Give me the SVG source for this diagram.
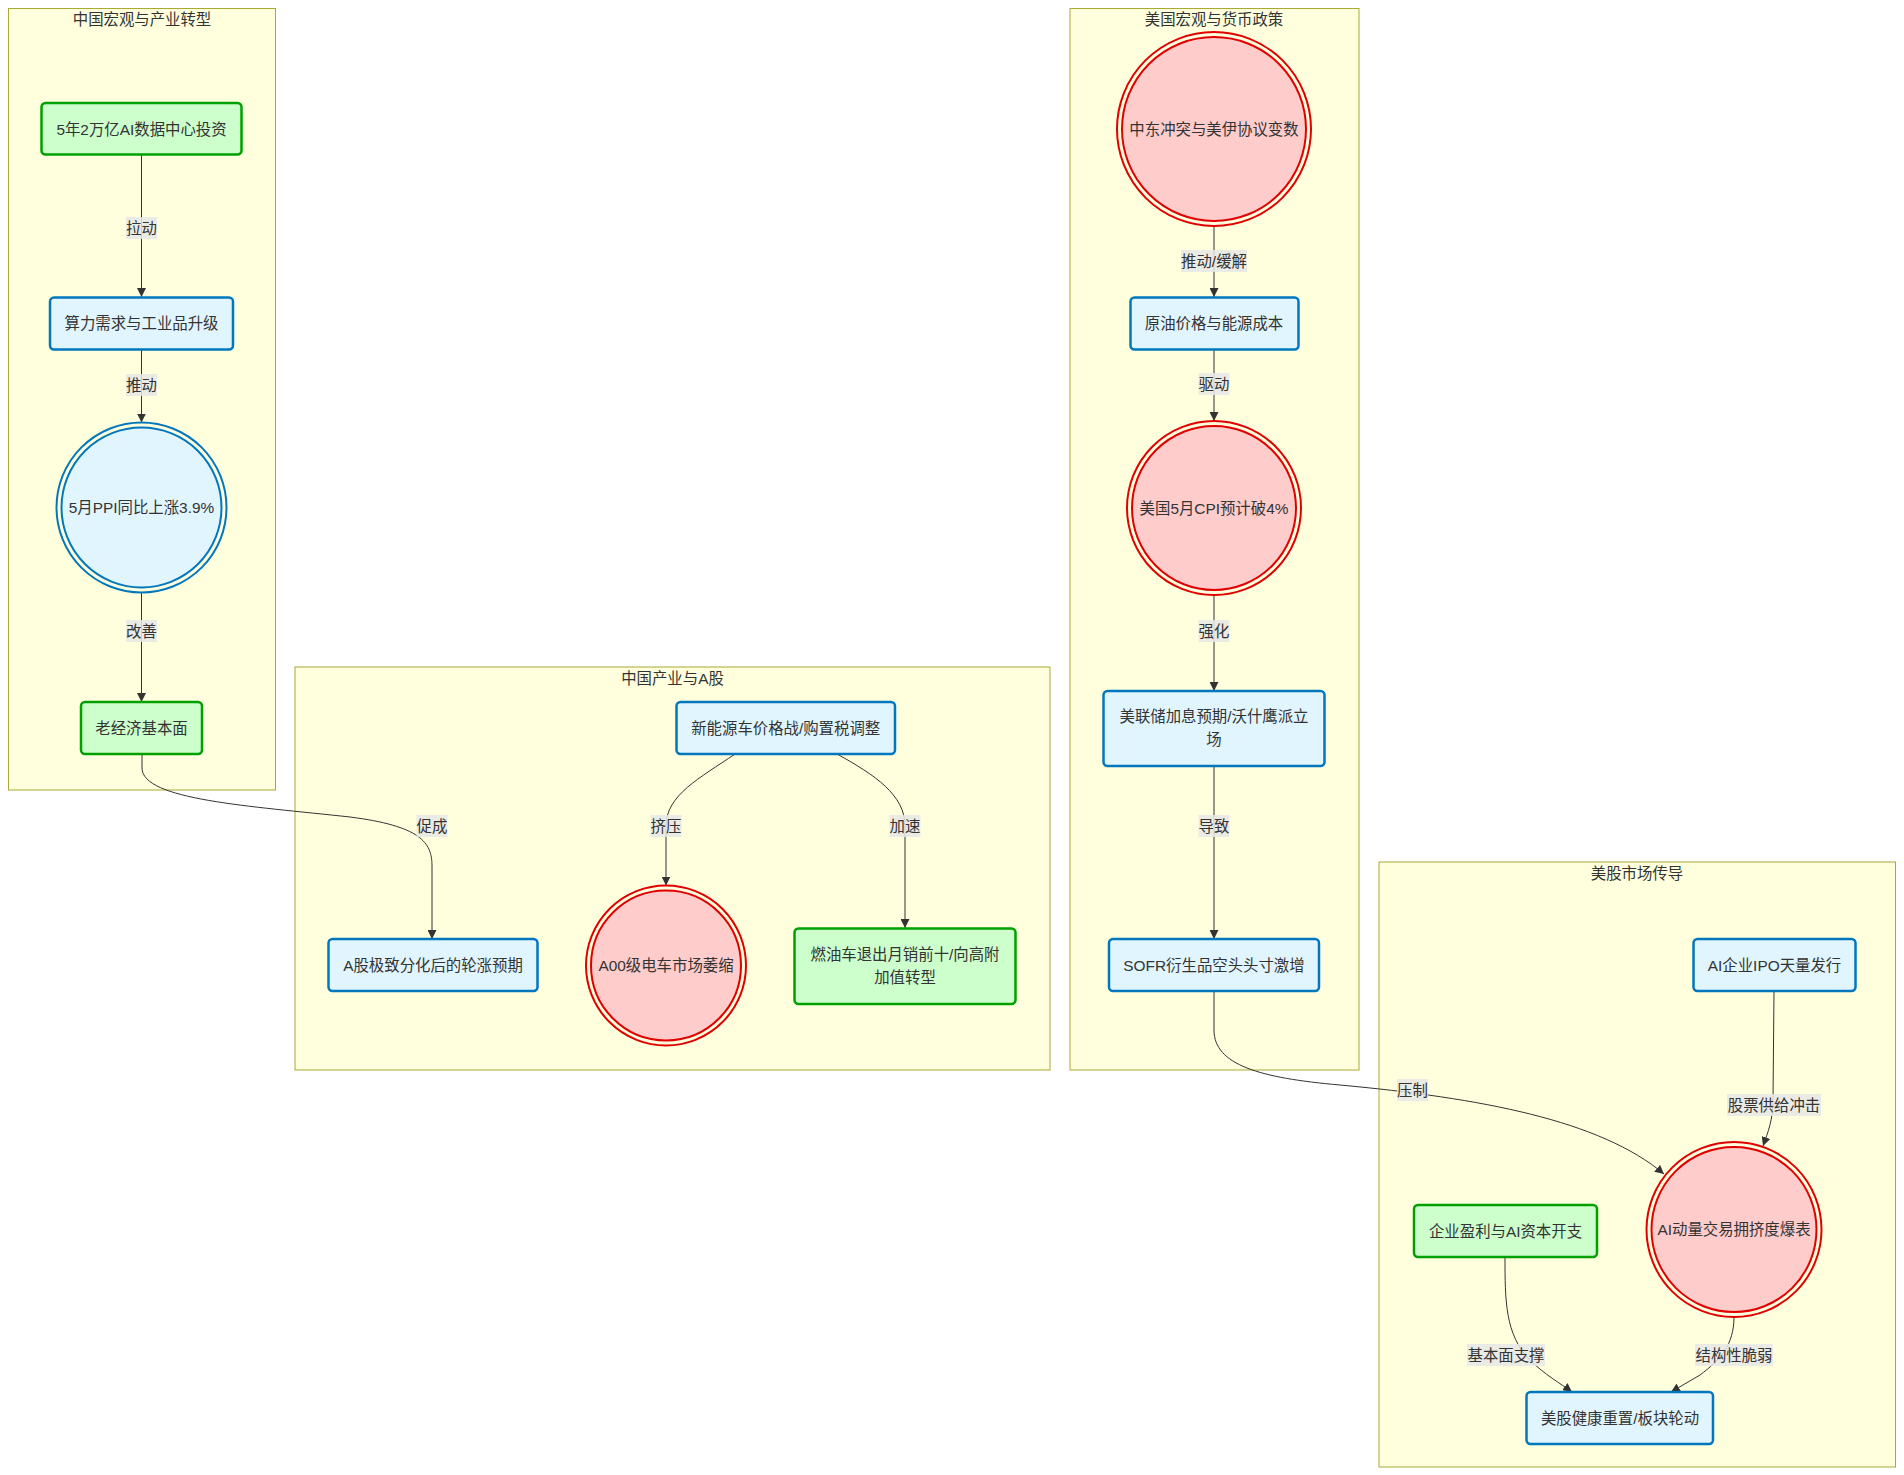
<svg xmlns="http://www.w3.org/2000/svg" width="1904" height="1475" viewBox="0 0 1904 1475">
<style>
text{font-family:"Liberation Sans","Noto Sans CJK SC",sans-serif;font-size:15.4px;fill:#333;text-anchor:middle;dominant-baseline:central}
.cluster{fill:#ffffde;stroke:#aaaa33;stroke-width:1}
.blue{fill:#e1f5fe;stroke:#0277bd;stroke-width:2.5}
.green{fill:#ccffcc;stroke:#00a000;stroke-width:2.5}
.red{fill:#ffcccc;stroke:#e00000;stroke-width:2}
.redc{fill:none;stroke:#e00000;stroke-width:2}
.bluec{fill:none;stroke:#0277bd;stroke-width:2}
.edge{fill:none;stroke:#333;stroke-width:1}
.lbl{fill:#e8e8e8;fill-opacity:0.85}
</style>
<defs>
<marker id="arr" viewBox="0 0 10 10" refX="10" refY="5" markerWidth="9" markerHeight="9" markerUnits="userSpaceOnUse" orient="auto">
<path d="M0,0 L10,5 L0,10 z" fill="#333"/>
</marker>
</defs>

<g id="clusters">
<g id="cluster-cn-macro"><rect class="cluster" x="8.5" y="8.5" width="267" height="781.5"/><text x="142" y="19.5">中国宏观与产业转型</text></g>
<g id="cluster-cn-industry"><rect class="cluster" x="295" y="667" width="755" height="403"/><text x="672.5" y="678">中国产业与A股</text></g>
<g id="cluster-us-macro"><rect class="cluster" x="1070" y="8.5" width="289" height="1061.5"/><text x="1214" y="19.5">美国宏观与货币政策</text></g>
<g id="cluster-us-market"><rect class="cluster" x="1379" y="862" width="516.5" height="605"/><text x="1637" y="873">美股市场传导</text></g>
</g>

<g id="connectors">
<path class="edge" marker-end="url(#arr)" d="M141.5,155 L141.5,297"/>
<path class="edge" marker-end="url(#arr)" d="M141.5,350 L141.5,422.5"/>
<path class="edge" marker-end="url(#arr)" d="M141.5,592.5 L141.5,702"/>
<path class="edge" marker-end="url(#arr)" d="M142,754 L142,768 C142,800 250,806 350,817 C420,826 432,842 432,866 L432,939"/>
<path class="edge" marker-end="url(#arr)" d="M735,754 C700,778 666,795 666,826 L666,885.5"/>
<path class="edge" marker-end="url(#arr)" d="M837,754 C875,775 905,795 905,826 L905,928"/>
<path class="edge" marker-end="url(#arr)" d="M1214,226 L1214,297"/>
<path class="edge" marker-end="url(#arr)" d="M1214,350 L1214,421"/>
<path class="edge" marker-end="url(#arr)" d="M1214,595 L1214,691"/>
<path class="edge" marker-end="url(#arr)" d="M1214,766 L1214,939"/>
<path class="edge" marker-end="url(#arr)" d="M1214,991 L1214,1030 C1214,1065 1260,1078 1340,1085 C1480,1098 1600,1120 1664,1174"/>
<path class="edge" marker-end="url(#arr)" d="M1774,991 L1773,1100 C1773,1120 1768,1132 1763,1146"/>
<path class="edge" marker-end="url(#arr)" d="M1505,1257 C1505,1300 1505,1335 1530,1360 C1545,1375 1560,1383 1572,1392"/>
<path class="edge" marker-end="url(#arr)" d="M1734,1317 C1734,1345 1720,1360 1700,1375 L1671,1392"/>
</g>

<g id="edge-labels">
<g><rect class="lbl" x="126" y="217" width="31" height="22"/><text x="141.5" y="228">拉动</text></g>
<g><rect class="lbl" x="126" y="374" width="31" height="22"/><text x="141.5" y="385">推动</text></g>
<g><rect class="lbl" x="126" y="620" width="31" height="22"/><text x="141.5" y="631">改善</text></g>
<g><rect class="lbl" x="416.5" y="815" width="31" height="22"/><text x="432" y="826">促成</text></g>
<g><rect class="lbl" x="650.5" y="815" width="31" height="22"/><text x="666" y="826">挤压</text></g>
<g><rect class="lbl" x="889.5" y="815" width="31" height="22"/><text x="905" y="826">加速</text></g>
<g><rect class="lbl" x="1181" y="250" width="66" height="22"/><text x="1214" y="261">推动/缓解</text></g>
<g><rect class="lbl" x="1198.5" y="373" width="31" height="22"/><text x="1214" y="384">驱动</text></g>
<g><rect class="lbl" x="1198.5" y="620" width="31" height="22"/><text x="1214" y="631">强化</text></g>
<g><rect class="lbl" x="1198.5" y="815" width="31" height="22"/><text x="1214" y="826">导致</text></g>
<g><rect class="lbl" x="1397" y="1079" width="31" height="22"/><text x="1412.5" y="1090">压制</text></g>
<g><rect class="lbl" x="1727" y="1094" width="94" height="22"/><text x="1774" y="1105">股票供给冲击</text></g>
<g><rect class="lbl" x="1467" y="1344" width="78" height="22"/><text x="1506" y="1355">基本面支撑</text></g>
<g><rect class="lbl" x="1695" y="1344" width="78" height="22"/><text x="1734" y="1355">结构性脆弱</text></g>
</g>

<g id="n-ai-dc"><rect class="green" x="41.5" y="103" width="200" height="51.5" rx="4"/><text x="141.5" y="129">5年2万亿AI数据中心投资</text></g>
<g id="n-compute"><rect class="blue" x="50" y="297.5" width="183" height="52" rx="4"/><text x="141.5" y="323.5">算力需求与工业品升级</text></g>
<g id="n-ppi"><circle class="bluec" cx="141.5" cy="507.5" r="85"/><circle class="blue" style="stroke-width:2" cx="141.5" cy="507.5" r="80"/><text x="141.5" y="507.5">5月PPI同比上涨3.9%</text></g>
<g id="n-old-econ"><rect class="green" x="81" y="702" width="121" height="52" rx="4"/><text x="141.5" y="728">老经济基本面</text></g>

<g id="n-nev"><rect class="blue" x="676.5" y="702" width="218.5" height="52" rx="4"/><text x="785.7" y="728">新能源车价格战/购置税调整</text></g>
<g id="n-ashare"><rect class="blue" x="328.5" y="939" width="209" height="52" rx="4"/><text x="433" y="965">A股极致分化后的轮涨预期</text></g>
<g id="n-a00"><circle class="redc" cx="666" cy="965.5" r="80"/><circle class="red" cx="666" cy="965.5" r="75"/><text x="666" y="965.5">A00级电车市场萎缩</text></g>
<g id="n-ice"><rect class="green" x="794.5" y="928.5" width="221" height="75.5" rx="4"/><text x="905" y="954.5">燃油车退出月销前十/向高附</text><text x="905" y="977">加值转型</text></g>

<g id="n-mideast"><circle class="redc" cx="1214" cy="129" r="97"/><circle class="red" cx="1214" cy="129" r="92"/><text x="1214" y="129">中东冲突与美伊协议变数</text></g>
<g id="n-oil"><rect class="blue" x="1130.5" y="297.5" width="168" height="52" rx="4"/><text x="1214" y="323.5">原油价格与能源成本</text></g>
<g id="n-cpi"><circle class="redc" cx="1214" cy="508" r="87"/><circle class="red" cx="1214" cy="508" r="82"/><text x="1214" y="508">美国5月CPI预计破4%</text></g>
<g id="n-fed"><rect class="blue" x="1103.5" y="691" width="221" height="75" rx="4"/><text x="1214" y="716">美联储加息预期/沃什鹰派立</text><text x="1214" y="739">场</text></g>
<g id="n-sofr"><rect class="blue" x="1109" y="939" width="210" height="52" rx="4"/><text x="1214" y="965">SOFR衍生品空头头寸激增</text></g>

<g id="n-ipo"><rect class="blue" x="1693.5" y="939" width="162" height="52" rx="4"/><text x="1774.5" y="965">AI企业IPO天量发行</text></g>
<g id="n-crowd"><circle class="redc" cx="1734" cy="1229.5" r="87.5"/><circle class="red" cx="1734" cy="1229.5" r="82.5"/><text x="1734" y="1229.5">AI动量交易拥挤度爆表</text></g>
<g id="n-earnings"><rect class="green" x="1414" y="1205" width="183" height="52" rx="4"/><text x="1505.5" y="1231">企业盈利与AI资本开支</text></g>
<g id="n-reset"><rect class="blue" x="1526.5" y="1392" width="186.5" height="52" rx="4"/><text x="1620" y="1418">美股健康重置/板块轮动</text></g>
</svg>
